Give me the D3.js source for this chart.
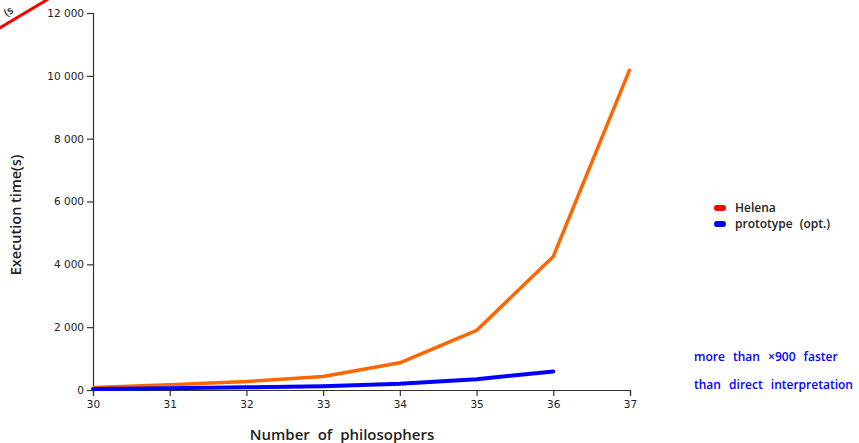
<!DOCTYPE html>
<html>
<head>
<meta charset="utf-8">
<script src="https://cdn.jsdelivr.net/npm/d3@7"></script>
<style>
  html, body { margin: 0; padding: 0; background: #fff; }
  svg { display: block; }
</style>
</head>
<body>
<svg id="chart" width="859" height="443"></svg>
<script>
// Number of philosophers (x) and execution times in seconds
const philosophers = [30, 31, 32, 33, 34, 35, 36, 37];
const helenaTimes = [80, 165, 270, 430, 866, 1895, 4250, 10220];
const prototypePhil = [30, 31, 32, 33, 34, 35, 36];
const prototypeTimes = [30, 55, 85, 120, 197, 345, 590];
const yTickValues = [0, 2000, 4000, 6000, 8000, 10000, 12000];
const legendLabels = ["Helena", "prototype (opt.)"];
const legendColors = ["#ff0000", "#0000ff"];
const noteLines = ["more than \u00d7900 faster", "than direct interpretation"];

const svg = d3.select("#chart");
const margin = { left: 93, right: 229, top: 13, bottom: 53 };
const W = 859, H = 443;
const titleFont = "'Open Sans', sans-serif";

const x = d3.scaleLinear().domain([30, 37]).range([margin.left, W - margin.right]);
const y = d3.scaleLinear().domain([0, 12000]).range([H - margin.bottom, margin.top]);

const fmt = v => d3.format(",")(v).replace(/,/g, " ");

// Axes
const xAxis = svg.append("g")
  .attr("transform", `translate(0,${y(0)})`)
  .call(d3.axisBottom(x).ticks(7).tickFormat(d3.format("d")).tickSizeOuter(6).tickSize(6));
const yAxis = svg.append("g")
  .attr("transform", `translate(${x(30)},0)`)
  .call(d3.axisLeft(y).tickValues(yTickValues).tickFormat(fmt).tickSize(6).tickSizeOuter(6));

[xAxis, yAxis].forEach(a => {
  a.selectAll("path, line").attr("stroke", "#333").attr("stroke-width", 1.2);
  a.selectAll("text")
    .attr("font-family", "DejaVu Sans, sans-serif")
    .attr("font-size", 10.5)
    .attr("fill", "#222");
});
xAxis.selectAll("text").attr("dy", "0.9em");

// Axis titles
svg.append("text")
  .attr("x", 342).attr("y", 440)
  .attr("text-anchor", "middle")
  .attr("font-family", titleFont)
  .attr("font-weight", 600)
  .attr("font-size", 15)
  .attr("word-spacing", 4)
  .attr("fill", "#222")
  .text("Number of philosophers");

svg.append("text")
  .attr("transform", "translate(21,215) rotate(-90)")
  .attr("text-anchor", "middle")
  .attr("font-family", titleFont)
  .attr("font-weight", 600)
  .attr("font-size", 14.5)
  .attr("fill", "#222")
  .text("Execution time(s)");

// Series lines
const line = d3.line().x(d => x(d[0])).y(d => y(d[1]));
svg.append("path")
  .datum(philosophers.map((p, i) => [p, helenaTimes[i]]))
  .attr("d", line)
  .attr("fill", "none")
  .attr("stroke", "#ff6600")
  .attr("stroke-width", 3.5)
  .attr("stroke-linejoin", "round");
svg.append("path")
  .datum(prototypePhil.map((p, i) => [p, prototypeTimes[i]]))
  .attr("d", line)
  .attr("fill", "none")
  .attr("stroke", "#0000ff")
  .attr("stroke-width", 4)
  .attr("stroke-linecap", "round")
  .attr("stroke-linejoin", "round");

// Legend
const legend = svg.append("g").attr("transform", "translate(714,208)");
legendLabels.forEach((lab, i) => {
  const g = legend.append("g").attr("transform", `translate(0,${i * 16})`);
  g.append("rect")
    .attr("x", 0).attr("y", -3).attr("width", 12).attr("height", 6)
    .attr("rx", 3).attr("fill", legendColors[i]);
  g.append("text")
    .attr("x", 21).attr("y", 4)
    .attr("font-family", titleFont)
    .attr("font-weight", 600)
    .attr("font-size", 12)
    .attr("word-spacing", 4)
    .attr("fill", "#222")
    .text(lab);
});

// Speed-up note
noteLines.forEach((t, i) => {
  svg.append("text")
    .attr("x", 694).attr("y", 361 + i * 28)
    .attr("font-family", titleFont)
    .attr("font-weight", 600)
    .attr("font-size", 12)
    .attr("word-spacing", 5)
    .attr("fill", "#0000ff")
    .text(t);
});

// Corner marker
svg.append("line")
  .attr("x1", -2).attr("y1", 29).attr("x2", 50).attr("y2", -2)
  .attr("stroke", "#ff0000").attr("stroke-width", 3);
svg.append("text")
  .attr("transform", "translate(7,17) rotate(-35)")
  .attr("font-family", titleFont)
  .attr("font-weight", 600)
  .attr("font-size", 11)
  .attr("fill", "#222")
  .text("(s");
</script>
</body>
</html>
